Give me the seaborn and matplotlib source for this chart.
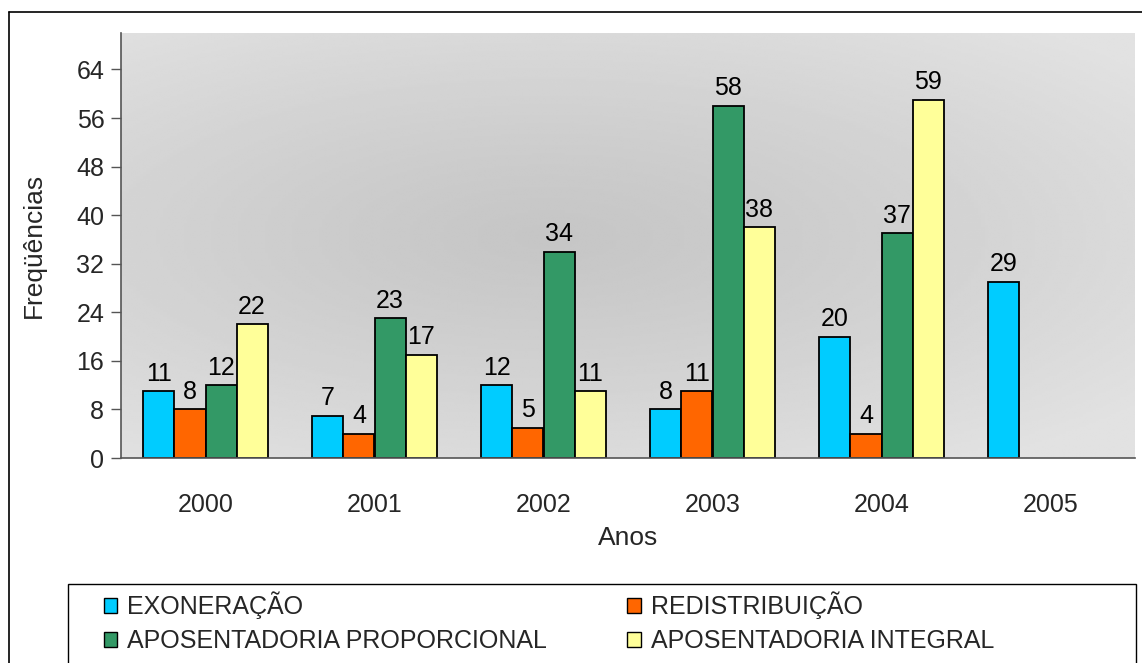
import numpy as np
import pandas as pd
import matplotlib
matplotlib.use("Agg")
import matplotlib.pyplot as plt
from matplotlib.lines import Line2D
from matplotlib.patches import Rectangle, Patch
import seaborn as sns

years = ["2000", "2001", "2002", "2003", "2004", "2005"]
series = ["EXONERAÇÃO", "REDISTRIBUIÇÃO", "APOSENTADORIA PROPORCIONAL", "APOSENTADORIA INTEGRAL"]
exoneracao = [11, 7, 12, 8, 20, 29]
redistribuicao = [8, 4, 5, 11, 4, np.nan]
apos_proporcional = [12, 23, 34, 58, 37, np.nan]
apos_integral = [22, 17, 11, 38, 59, np.nan]
colors = ["#00CCFF", "#FF6600", "#339966", "#FFFF99"]
yticks = [0, 8, 16, 24, 32, 40, 48, 56, 64]

rows = []
for name, vals in zip(series, [exoneracao, redistribuicao, apos_proporcional, apos_integral]):
    for y, v in zip(years, vals):
        rows.append({"Ano": y, "Serie": name, "Valor": v})
df = pd.DataFrame(rows)

sns.set_theme(style="white")
plt.rcParams['font.family'] = ['Liberation Sans', 'DejaVu Sans']

W, H = 1142, 663
fig = plt.figure(figsize=(W / 100, H / 100), dpi=100)
ax = fig.add_axes([121 / W, 1 - 458 / H, (1135 - 121) / W, (458 - 33) / H])

# gradient background
gx = np.linspace(0, 1, 300)
gy = np.linspace(0, 1, 200)
X, Y = np.meshgrid(gx, gy)
R = np.sqrt(((X - 0.42) / 0.75) ** 2 + ((Y - 0.52) / 0.65) ** 2)
R = np.clip(R, 0, 1)
val = 0.775 + (0.885 - 0.775) * R ** 1.2
ax.imshow(val, cmap="gray", vmin=0, vmax=1, extent=[0, 1, 0, 1], transform=ax.transAxes,
          aspect="auto", zorder=0, interpolation="bilinear", origin="lower")

sns.barplot(data=df, x="Ano", y="Valor", hue="Serie", order=years, hue_order=series,
            palette=colors, width=0.735, edgecolor="black", linewidth=1.3,
            saturation=1, ax=ax, zorder=2, legend=False)

for cont in ax.containers:
    ax.bar_label(cont, fmt="%g", padding=4, fontsize=18, color="black")

ax.set_xlim(-0.5, 5.5)
ax.set_ylim(0, 70)
ax.set_yticks(yticks)
ax.set_yticklabels([str(t) for t in yticks], fontsize=18)
ax.set_xticks(range(len(years)))
ax.set_xticklabels(years, fontsize=18)
ax.set_xticks(np.arange(-0.5, 6.0, 1.0), minor=True)
ax.tick_params(axis="x", which="major", length=0, pad=25)
ax.tick_params(axis="x", which="minor", length=9, width=1, color="#555555", direction="out")
ax.tick_params(axis="y", which="major", length=7, width=1, color="#555555", direction="out", pad=5, left=True)
ax.set_xlabel("Anos", fontsize=19, labelpad=7)
ax.set_ylabel("Freqüências", fontsize=19, labelpad=22)
for s in ["top", "right"]:
    ax.spines[s].set_visible(False)
for s in ["left", "bottom"]:
    ax.spines[s].set_color("#555555")
    ax.spines[s].set_linewidth(1.2)

# figure border (left and top visible)
fig.add_artist(Line2D([9 / W, 9 / W], [0, 1 - 12 / H], transform=fig.transFigure, color="black", lw=1.2))
fig.add_artist(Line2D([9 / W, 1], [1 - 12 / H, 1 - 12 / H], transform=fig.transFigure, color="black", lw=1.2))

# legend box
fig.add_artist(Rectangle((68 / W, -0.02), (1136 - 68) / W, (663 - 584) / H + 0.02,
                         transform=fig.transFigure, fill=False, edgecolor="black", lw=1.0))
handles = [Patch(facecolor=c, edgecolor="black", linewidth=1.0) for c in colors]
order = [0, 2, 1, 3]
fig.legend([handles[i] for i in order], [series[i] for i in order], loc="upper left",
           bbox_to_anchor=(91 / W, 1 - 579 / H), ncol=2,
           frameon=False, fontsize=18, handlelength=0.55, handleheight=0.55, handletextpad=0.4,
           columnspacing=3.2, labelspacing=0.4, borderpad=0)

fig.savefig("out.png", dpi=100)
